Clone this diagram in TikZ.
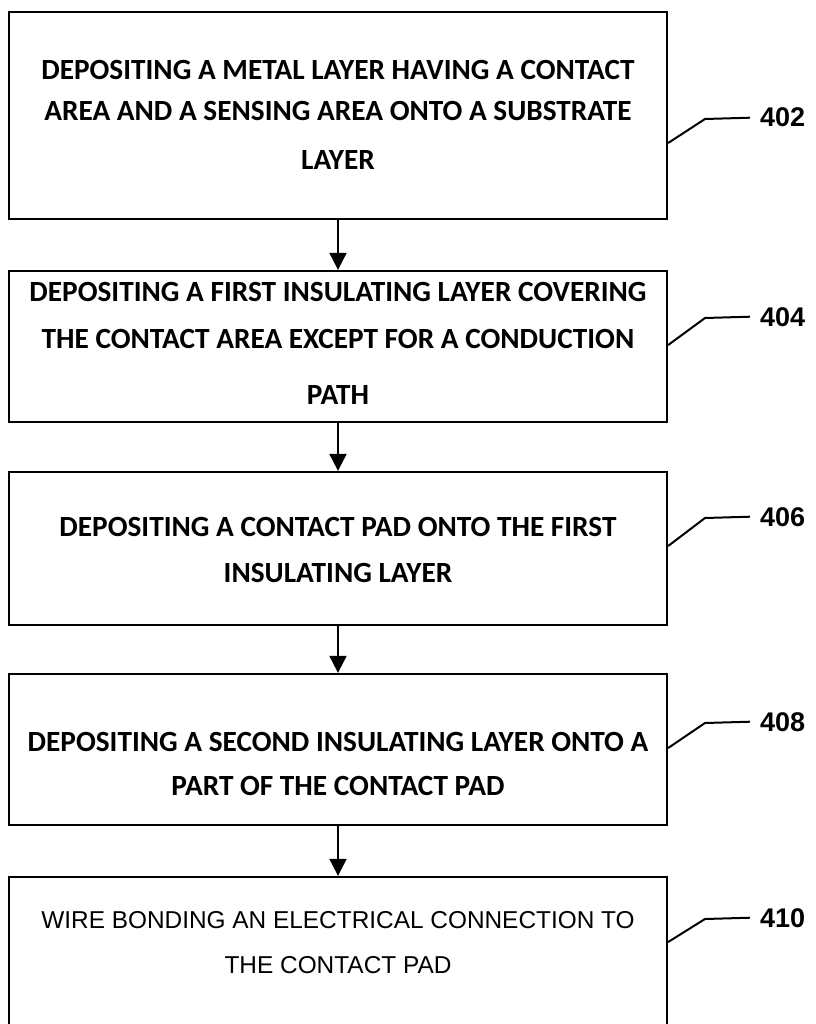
\documentclass[tikz,border=0pt]{standalone}
\usepackage{fontspec}
\setmainfont{Carlito}
\newfontfamily\arialf{Liberation Sans}
\usetikzlibrary{arrows.meta}
\tikzset{
  x=1pt,y=-1pt,
  stepbox/.style={draw=black,line width=2.3pt,minimum width=658pt,inner sep=0pt},
  linetext/.style={anchor=base,inner sep=0pt,font=\bfseries\fontsize{29.3}{35}\selectfont},
  linetextb/.style={anchor=base,inner sep=0pt,font=\arialf\fontsize{24.4}{29}\selectfont},
  reflabel/.style={anchor=base west,inner xsep=10pt,inner ysep=0pt,font=\arialf\bfseries\fontsize{27}{31}\selectfont},
  flow/.style={line width=2pt,-{Triangle[width=17pt,length=17pt]}},
  leader/.style={line width=2pt,line join=round}
}
\begin{document}
\begin{tikzpicture}
\clip (0,0) rectangle (815,1024);
\useasboundingbox (0,0) rectangle (815,1024);
% boxes
\node[stepbox,minimum height=207pt] (b1) at (338,115.5) {};
\node[stepbox,minimum height=151pt] (b2) at (338,346.5) {};
\node[stepbox,minimum height=153pt] (b3) at (338,548.5) {};
\node[stepbox,minimum height=151pt] (b4) at (338,749.5) {};
\node[stepbox,minimum height=160pt] (b5) at (338,957) {};
% texts
\node[linetext] (t1a) at (338,80) {DEPOSITING A METAL LAYER HAVING A CONTACT};
\node[linetext] (t1b) at (338,121) {AREA AND A SENSING AREA ONTO A SUBSTRATE};
\node[linetext] (t1c) at (338,170) {LAYER};
\node[linetext] (t2a) at (338,301) {DEPOSITING A FIRST INSULATING LAYER COVERING};
\node[linetext] (t2b) at (338,348) {THE CONTACT AREA EXCEPT FOR A CONDUCTION};
\node[linetext] (t2c) at (338,404) {PATH};
\node[linetext] (t3a) at (338,536) {DEPOSITING A CONTACT PAD ONTO THE FIRST};
\node[linetext] (t3b) at (338,582) {INSULATING LAYER};
\node[linetext] (t4a) at (338,751) {DEPOSITING A SECOND INSULATING LAYER ONTO A};
\node[linetext] (t4b) at (338,795) {PART OF THE CONTACT PAD};
\node[linetextb] (t5a) at (338,928.5) {WIRE BONDING AN ELECTRICAL CONNECTION TO};
\node[linetextb] (t5b) at (338,973.5) {THE CONTACT PAD};
% arrows
\draw[flow] (b1.south) -- (b2.north);
\draw[flow] (b2.south) -- (b3.north);
\draw[flow] (b3.south) -- (b4.north);
\draw[flow] (b4.south) -- (b5.north);
% reference labels
\node[reflabel] (l1) at (750,127) {402};
\node[reflabel] (l2) at (750,326) {404};
\node[reflabel] (l3) at (750,526) {406};
\node[reflabel] (l4) at (750,731) {408};
\node[reflabel] (l5) at (750,927) {410};
\draw[leader] (b1.east |- 0,143) -- (705,119) -- (l1.west);
\draw[leader] (b2.east |- 0,345) -- (705,318) -- (l2.west);
\draw[leader] (b3.east |- 0,546) -- (705,518) -- (l3.west);
\draw[leader] (b4.east |- 0,748) -- (705,723) -- (l4.west);
\draw[leader] (b5.east |- 0,942) -- (705,919) -- (l5.west);
\end{tikzpicture}
\end{document}
